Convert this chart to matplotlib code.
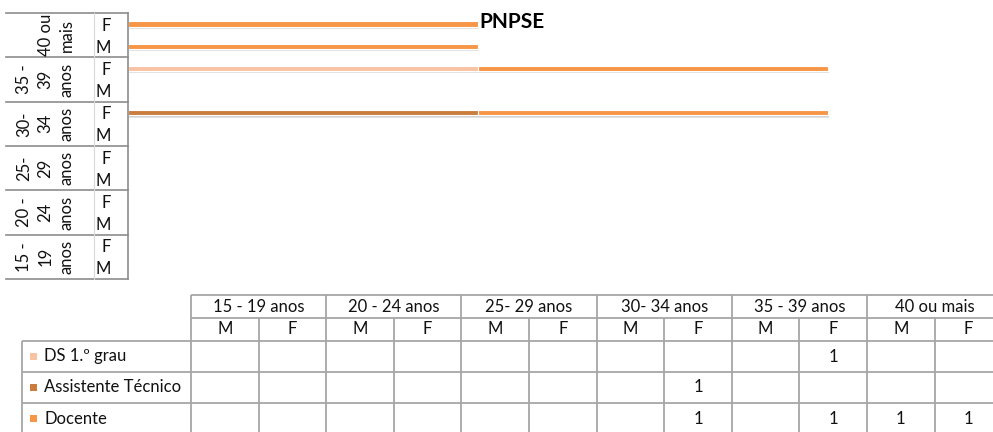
import numpy as np
import matplotlib
matplotlib.use('Agg')
import matplotlib.pyplot as plt
import matplotlib.transforms as mtransforms
from matplotlib.patches import Rectangle

plt.rcParams['font.family'] = ['Lato', 'DejaVu Sans']

# age groups (table headers and rotated axis labels) and sexes
ages = ['15 - 19 anos', '20 - 24 anos', '25- 29 anos', '30- 34 anos', '35 - 39 anos', '40 ou mais']
age_axis = ['15 -\n19\nanos', '20 -\n24\nanos', '25-\n29\nanos', '30-\n34\nanos', '35 -\n39\nanos', '40 ou\nmais']
sexes = ['M', 'F']

# one value per (age, sex): 15-19 M, 15-19 F, 20-24 M, ... 40+ F  (nan = empty)
series = ['DS 1.º grau', 'Assistente Técnico', 'Docente']
ds_1grau = [np.nan, np.nan, np.nan, np.nan, np.nan, np.nan, np.nan, np.nan, np.nan, 1, np.nan, np.nan]
assistente = [np.nan, np.nan, np.nan, np.nan, np.nan, np.nan, np.nan, 1, np.nan, np.nan, np.nan, np.nan]
docente = [np.nan, np.nan, np.nan, np.nan, np.nan, np.nan, np.nan, 1, np.nan, 1, 1, 1]
colors = ['#F9C2A3', '#CB7D3E', '#F79646']

values = [ds_1grau, assistente, docente]

W, H = 993, 432
FS = 12
fig = plt.figure(figsize=(W / 100, H / 100), dpi=100)

# overlay in pixel coords for the table and the category frame
ov = fig.add_axes([0, 0, 1, 1], zorder=0)
ov.set_xlim(0, W)
ov.set_ylim(H, 0)
ov.axis('off')

# bar chart area
x0, x1, y0, y1 = 128, 985.5, 13, 279
ax = fig.add_axes([x0 / W, 1 - y1 / H, (x1 - x0) / W, (y1 - y0) / H], zorder=1)
ax.patch.set_alpha(0)
n = len(ages) * len(sexes)
ypos = np.arange(n)
ax.set_ylim(-0.5, n - 0.5)
ax.set_xlim(0, 2.45)

left = np.zeros(n)
for vals, col in zip(values, colors):
    v = np.nan_to_num(np.array(vals, dtype=float))
    mask = v > 0
    # soft shadow under each bar
    ax.barh(ypos[mask] - 0.12, v[mask], left=left[mask] + 0.004, height=0.2,
            color='#7f7f7f', alpha=0.22, linewidth=0)
    ax.barh(ypos[mask] - 0.07, v[mask], left=left[mask] + 0.002, height=0.22,
            color='#7f7f7f', alpha=0.18, linewidth=0)
    ax.barh(ypos[mask], v[mask], left=left[mask], height=0.24, color=col,
            edgecolor='white', linewidth=0.8)
    left += v

for s in ['top', 'right', 'bottom']:
    ax.spines[s].set_visible(False)
ax.spines['left'].set_color('#8c8c8c')
ax.spines['left'].set_linewidth(1.2)
ax.set_xticks([])
ax.set_yticks(ypos)
ax.set_yticklabels(sexes * len(ages), fontsize=FS, color='#111111')
ax.tick_params(axis='y', length=0, pad=12)

ov.text(512, 22, 'PNPSE', fontsize=15, fontweight='bold', ha='center', va='center', color='#000000', zorder=5)

# category frame on the left (x in pixels, y in bar data units)
blend = mtransforms.blended_transform_factory(ov.transData, ax.transData)
for k in range(len(ages) + 1):
    yb = -0.5 + 2 * k
    ov.plot([6, x0], [yb, yb], transform=blend, color='#8c8c8c', lw=1.2, clip_on=False)
ov.plot([94, 94], [-0.5, n - 0.5], transform=blend, color='#d9d9d9', lw=0.8, clip_on=False)
for k, lab in enumerate(age_axis):
    ov.text(75, 2 * k + 0.5, lab, transform=blend, rotation=90, ha='right', va='center',
            multialignment='center', fontsize=FS, color='#111111', linespacing=1.42)

# data table
tx0, cw = 191, 67.6
lab_x0 = 21.7
rows_y = [295, 318, 341, 372, 403, 434]
grid = dict(color='#a6a6a6', lw=1.3, solid_capstyle='butt')
tx_end = tx0 + cw * 12
ov.plot([tx0, tx_end], [rows_y[0]] * 2, **grid)
ov.plot([tx0, tx_end], [rows_y[1]] * 2, **grid)
for yy in rows_y[2:]:
    ov.plot([lab_x0, tx_end], [yy] * 2, **grid)
ov.plot([lab_x0, lab_x0], [rows_y[2], rows_y[-1]], **grid)
for c in range(13):
    xx = tx0 + c * cw
    top = rows_y[0] if c % 2 == 0 else rows_y[1]
    ov.plot([xx, xx], [top, rows_y[-1]], **grid)

txt = dict(fontsize=FS, color='#111111', va='center')
for g, age in enumerate(ages):
    ov.text(tx0 + (2 * g + 1) * cw, (rows_y[0] + rows_y[1]) / 2, age, ha='center', **txt)
    for s, sx in enumerate(sexes):
        ov.text(tx0 + (2 * g + s + 0.5) * cw, (rows_y[1] + rows_y[2]) / 2, sx, ha='center', **txt)

for r, (name, vals, col) in enumerate(zip(series, values, colors)):
    yc = (rows_y[2 + r] + rows_y[3 + r]) / 2
    ov.add_patch(Rectangle((29.5, yc - 3.5), 7, 7, color=col, lw=0))
    ov.text(44, yc, name, ha='left', **txt)
    for c, v in enumerate(vals):
        if not np.isnan(v):
            ov.text(tx0 + (c + 0.5) * cw, yc, f'{v:g}', ha='center', **txt)

fig.savefig('out.png', dpi=100)
